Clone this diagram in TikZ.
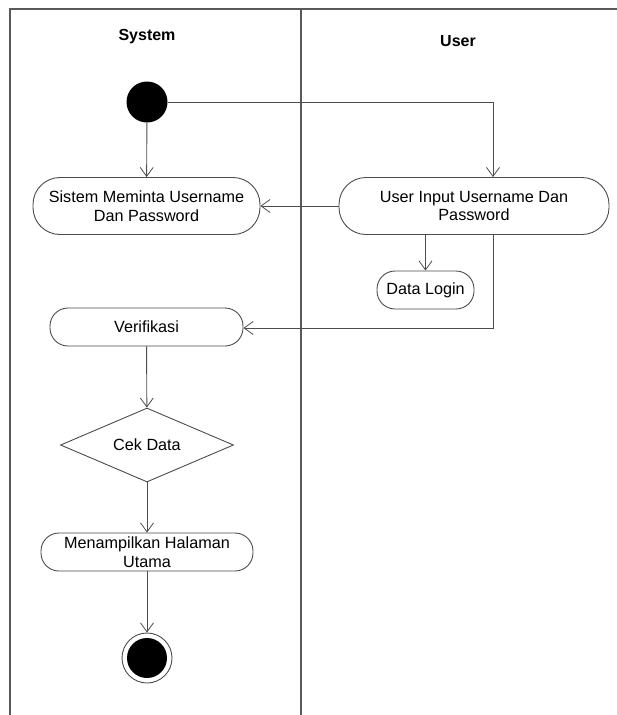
\documentclass[tikz,border=0pt]{standalone}
\usepackage{fontspec}
\setmainfont{Liberation Sans}
\usetikzlibrary{arrows.meta,shapes.geometric}
\begin{document}
\begin{tikzpicture}[x=1pt,y=-1pt,
  lane/.style={draw=black!65,line width=1.1pt},
  act/.style={draw=black!70,line width=0.9pt,fill=white,align=center,
    font=\fontsize{16.2}{18.5}\selectfont,inner sep=0pt},
  flow/.style={draw=black!70,line width=0.9pt,
    -{Straight Barb[length=9pt,width=13pt,line width=0.8pt]}},
  lanetitle/.style={font=\bfseries\fontsize{16}{18}\selectfont}]
\useasboundingbox (0,0) rectangle (617,715);
% swimlane frame
\draw[lane] (617,9) -- (10,9) -- (10,715);
\draw[lane] (301,9) -- (301,715);
\node[lanetitle] (sys) at (147,37) {System};
\node[lanetitle] (usr) at (458,41) {User};
% start and end markers
\node[circle,fill=black,minimum size=41pt,inner sep=0pt] (start) at (147,102) {};
\node[circle,draw=black!70,line width=0.9pt,minimum size=50pt,inner sep=0pt] (endo) at (147,658) {};
\node[circle,fill=black,minimum size=40pt,inner sep=0pt] (endi) at (147,658) {};
% activities
\node[act,minimum width=227pt,minimum height=57pt,rounded corners=27pt] (ask) at (146.5,206)
  {Sistem Meminta Username\\Dan Password};
\node[act,minimum width=270pt,minimum height=57pt,rounded corners=27pt] (input) at (474,206)
  {User Input Username Dan\\Password};
\node[act,minimum width=97pt,minimum height=38pt,rounded corners=18pt] (data) at (425.5,290)
  {Data Login};
\node[act,minimum width=193pt,minimum height=38pt,rounded corners=18pt] (verif) at (146.5,327)
  {Verifikasi};
\node[act,diamond,minimum width=173pt,minimum height=74pt,aspect=2.34] (cek) at (147,445)
  {Cek Data};
\node[act,minimum width=212pt,minimum height=38pt,rounded corners=18pt] (home) at (147,552)
  {Menampilkan Halaman\\Utama};
% flows
\draw[flow] (start) -- (ask);
\draw[flow] (start.east) -| (input.north -| 493,0);
\draw[flow] (input) -- (ask);
\draw[flow] (input.south -| data) -- (data);
\coordinate (turn) at (493,328);
\draw[flow] (input.south -| turn) -- (turn) -- (verif.east |- turn);
\draw[flow] (verif) -- (cek);
\draw[flow] (cek) -- (home);
\draw[flow] (home) -- (endo);
\end{tikzpicture}
\end{document}
